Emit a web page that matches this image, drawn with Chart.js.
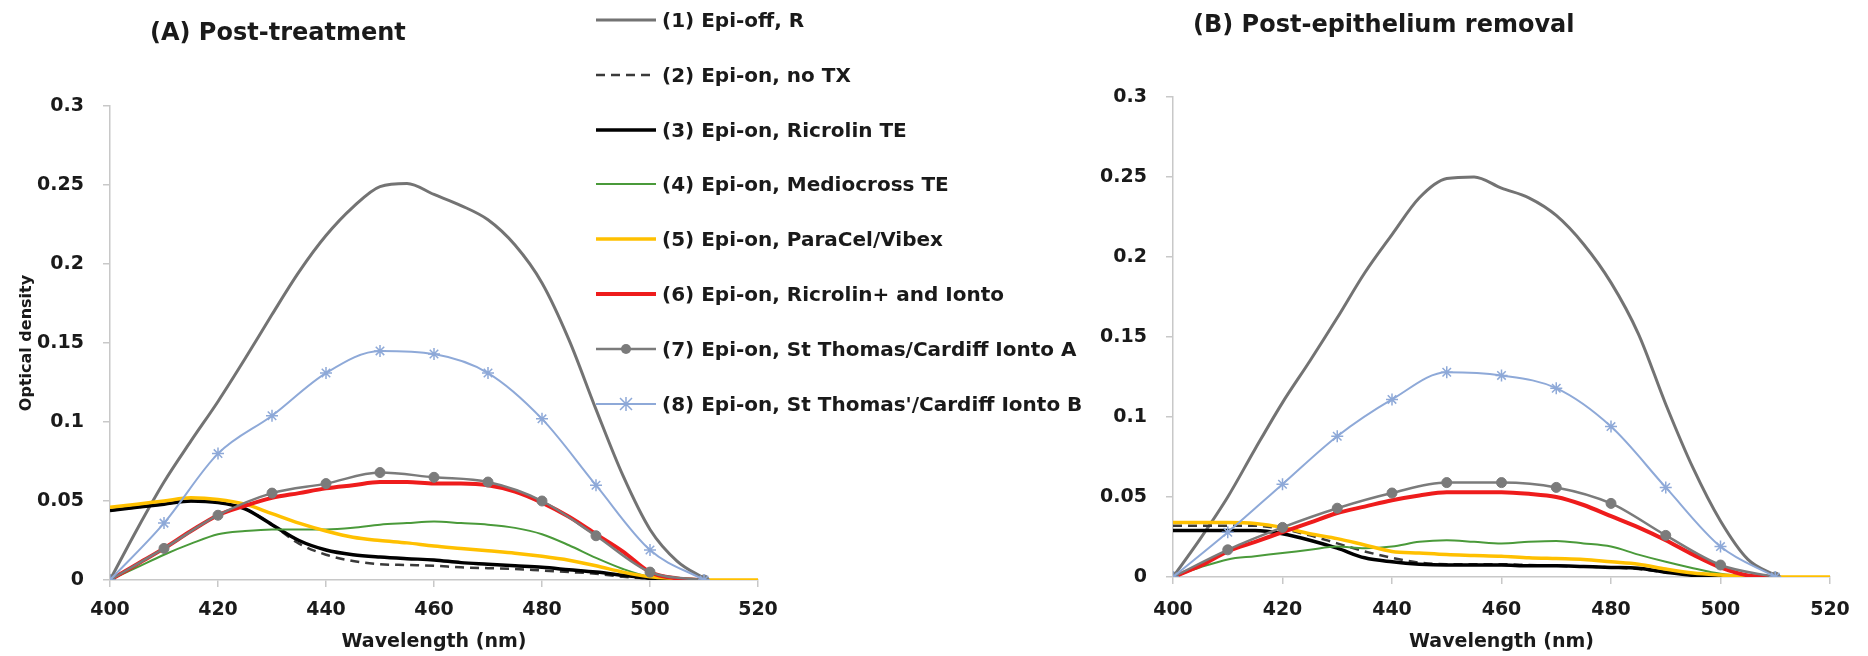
<!DOCTYPE html>
<html lang="en">
  <head>
    <meta charset="UTF-8" />
    <title>Optical density spectra</title>
    <script src="https://cdn.jsdelivr.net/npm/chart.js"></script>
    <style>
      body { margin: 0; background: #fff; }
      #page {
        position: relative;
        width: 1868px;
        height: 656px;
        overflow: hidden;
        font-family: "DejaVu Sans", sans-serif;
        font-weight: bold;
        color: #1a1a1a;
      }
      canvas { position: absolute; top: 0; }
      #chartA { left: 0; }
      #chartB { left: 1090px; }
      .title { position: absolute; font-size: 24px; line-height: 24px; white-space: nowrap; }
      #legend { position: absolute; left: 594px; top: 0; }
      .row {
        position: absolute;
        left: 0;
        height: 30px;
        display: flex;
        align-items: center;
        white-space: nowrap;
        font-size: 20px;
      }
      .row svg { display: block; }
    </style>
  </head>
  <body>
    <div id="page">
      <canvas id="chartA" width="800" height="656"></canvas>
      <canvas id="chartB" width="778" height="656"></canvas>
      <div class="title" style="left: 150px; top: 20px">(A) Post-treatment</div>
      <div class="title" style="left: 1193px; top: 12px">(B) Post-epithelium removal</div>
      <div id="legend"></div>
    </div>
    <script>
      // wavelength grid (nm)
      const wavelengths = [400, 405, 410, 415, 420, 425, 430, 435, 440, 445, 450, 455, 460,
        465, 470, 475, 480, 485, 490, 495, 500, 505, 510, 515, 520];
      const markerWavelengths = [400, 410, 420, 430, 440, 450, 460, 470, 480, 490, 500, 510];

      const seriesNames = [
        "(1) Epi-off, R",
        "(2) Epi-on, no TX",
        "(3) Epi-on, Ricrolin TE",
        "(4) Epi-on, Mediocross TE",
        "(5) Epi-on, ParaCel/Vibex",
        "(6) Epi-on, Ricrolin+ and Ionto",
        "(7) Epi-on, St Thomas/Cardiff Ionto A",
        "(8) Epi-on, St Thomas'/Cardiff Ionto B",
      ];

      // (A) post-treatment
      const epiOffA = [0, 0.032, 0.062, 0.088, 0.113, 0.14, 0.168, 0.195, 0.218, 0.236, 0.249, 0.251,
        0.244, 0.237, 0.228, 0.212, 0.188, 0.152, 0.108, 0.066, 0.032, 0.012, 0.001];
      const noTxA = [0.044, 0.046, 0.048, 0.05, 0.049, 0.045, 0.035, 0.023, 0.016, 0.012, 0.01, 0.0095,
        0.009, 0.008, 0.0075, 0.007, 0.006, 0.005, 0.004, 0.002, 0.001, 0, 0];
      const ricrolinA = [0.044, 0.046, 0.048, 0.05, 0.049, 0.045, 0.035, 0.025, 0.019, 0.016, 0.0145,
        0.0135, 0.0127, 0.011, 0.01, 0.009, 0.008, 0.0065, 0.005, 0.003, 0.001, 0, 0];
      const mediocrossA = [0, 0.008, 0.016, 0.023, 0.029, 0.031, 0.032, 0.032, 0.032, 0.033, 0.035,
        0.036, 0.037, 0.036, 0.035, 0.033, 0.029, 0.022, 0.014, 0.007, 0.002, 0.001, 0];
      const paracelA = [0.046, 0.048, 0.05, 0.052, 0.051, 0.048, 0.042, 0.036, 0.031, 0.027, 0.025,
        0.0235, 0.0215, 0.02, 0.0185, 0.017, 0.015, 0.0125, 0.009, 0.005, 0.002, 0.001, 0, 0, 0];
      const ricrolinIontoA = [0, 0.01, 0.02, 0.031, 0.041, 0.047, 0.052, 0.055, 0.058, 0.06, 0.062,
        0.062, 0.061, 0.061, 0.06, 0.056, 0.049, 0.04, 0.029, 0.018, 0.005, 0.001, 0];
      const cardiffA_A = [0, 0.02, 0.041, 0.055, 0.061, 0.068, 0.065, 0.062, 0.05, 0.028, 0.005, 0];
      const cardiffB_A = [0, 0.036, 0.08, 0.104, 0.131, 0.145, 0.143, 0.131, 0.102, 0.06, 0.019, 0];

      // (B) post-epithelium removal
      const epiOffB = [0, 0.024, 0.05, 0.08, 0.109, 0.135, 0.162, 0.19, 0.214, 0.237, 0.249, 0.25,
        0.243, 0.237, 0.226, 0.208, 0.184, 0.152, 0.108, 0.068, 0.035, 0.011, 0.001];
      const noTxB = [0.032, 0.032, 0.032, 0.032, 0.03, 0.026, 0.021, 0.016, 0.012, 0.009, 0.008, 0.008,
        0.008, 0.0075, 0.007, 0.0065, 0.006, 0.005, 0.003, 0.0015, 0.0005, 0, 0];
      const ricrolinB = [0.029, 0.029, 0.029, 0.029, 0.027, 0.023, 0.018, 0.012, 0.0095, 0.008, 0.0075,
        0.0075, 0.0075, 0.007, 0.007, 0.0065, 0.006, 0.0055, 0.003, 0.001, 0.0005, 0, 0];
      const mediocrossB = [0, 0.006, 0.011, 0.013, 0.015, 0.017, 0.019, 0.018, 0.019, 0.022, 0.023,
        0.022, 0.021, 0.022, 0.0225, 0.021, 0.019, 0.014, 0.0095, 0.0055, 0.002, 0.0005, 0];
      const paracelB = [0.034, 0.034, 0.034, 0.0335, 0.031, 0.027, 0.024, 0.02, 0.016, 0.015, 0.014,
        0.0135, 0.013, 0.012, 0.0115, 0.011, 0.0095, 0.008, 0.005, 0.0025, 0.0012, 0.0003, 0, 0, 0];
      const ricrolinIontoB = [0, 0.007, 0.016, 0.022, 0.028, 0.034, 0.04, 0.044, 0.048, 0.051, 0.053,
        0.053, 0.053, 0.052, 0.05, 0.045, 0.038, 0.031, 0.023, 0.014, 0.006, 0.001, 0];
      const cardiffA_B = [0, 0.017, 0.031, 0.043, 0.0525, 0.059, 0.059, 0.056, 0.046, 0.026, 0.0075, 0];
      const cardiffB_B = [0, 0.028, 0.058, 0.088, 0.111, 0.128, 0.126, 0.118, 0.094, 0.056, 0.019, 0];

      const lineStyles = [
        { color: "#737373", width: 3 },
        { color: "#3a3a3a", width: 2.5, dash: [9, 6] },
        { color: "#000000", width: 3.5 },
        { color: "#4a9a3a", width: 2 },
        { color: "#ffc000", width: 3.5 },
        { color: "#ee1c1c", width: 4 },
        { color: "#7b7b7b", width: 2.5, marker: "circle", radius: 5 },
        { color: "#8ea9d8", width: 2, marker: "star", radius: 6 },
      ];

      const axisGray = "#c8c8c8";
      const textColor = "#1a1a1a";
      const tickFont = { family: "DejaVu Sans", size: 19, weight: "bold" };

      function makeDatasets(series) {
        return series.map((values, i) => {
          const st = lineStyles[i];
          const xs = st.marker ? markerWavelengths : wavelengths;
          return {
            label: seriesNames[i],
            data: values.map((v, j) => ({ x: xs[j], y: v })),
            borderColor: st.color,
            backgroundColor: st.color,
            borderWidth: st.width,
            borderDash: st.dash || [],
            pointStyle: st.marker || "circle",
            pointRadius: st.marker ? st.radius : 0,
            pointBorderWidth: st.marker === "star" ? 1.5 : 1,
            pointBackgroundColor: st.color,
            pointBorderColor: st.color,
            cubicInterpolationMode: "monotone",
            fill: false,
            order: 7 - i,
          };
        });
      }

      function makeChart(id, series, o) {
        return new Chart(document.getElementById(id), {
          type: "line",
          data: { datasets: makeDatasets(series) },
          options: {
            responsive: false,
            animation: false,
            devicePixelRatio: 1,
            layout: { padding: { top: o.top, right: o.right, left: 0, bottom: 0 } },
            plugins: { legend: { display: false }, tooltip: { enabled: false } },
            scales: {
              x: {
                type: "linear",
                min: 400,
                max: 520,
                afterFit: (s) => { s.height = o.xHeight; },
                ticks: { stepSize: 20, padding: o.xPad, color: textColor, font: tickFont, maxRotation: 0 },
                grid: { drawOnChartArea: false, tickLength: 7, color: axisGray, lineWidth: 1.5 },
                border: { color: axisGray, width: 1.5 },
                title: {
                  display: true,
                  text: "Wavelength (nm)",
                  color: textColor,
                  font: { family: "DejaVu Sans", size: 19, weight: "bold" },
                  padding: { top: 0, bottom: 3 },
                },
              },
              y: {
                min: 0,
                max: 0.3,
                afterFit: (s) => { s.width = o.yWidth; },
                ticks: {
                  stepSize: 0.05,
                  padding: 19,
                  color: textColor,
                  font: tickFont,
                  callback: (v) => String(Number(v.toFixed(2))),
                },
                grid: { drawOnChartArea: false, tickLength: 7, color: axisGray, lineWidth: 1.5 },
                border: { color: axisGray, width: 1.5 },
                title: {
                  display: o.yTitle,
                  text: "Optical density",
                  color: textColor,
                  font: { family: "DejaVu Sans", size: 16, weight: "bold" },
                  padding: { top: 17, bottom: 0 },
                },
              },
            },
          },
        });
      }

      makeChart(
        "chartA",
        [epiOffA, noTxA, ricrolinA, mediocrossA, paracelA, ricrolinIontoA, cardiffA_A, cardiffB_A],
        { top: 106, right: 42, yWidth: 110, xHeight: 76, xPad: 12, yTitle: true }
      );
      makeChart(
        "chartB",
        [epiOffB, noTxB, ricrolinB, mediocrossB, paracelB, ricrolinIontoB, cardiffA_B, cardiffB_B],
        { top: 97, right: 38, yWidth: 83, xHeight: 79, xPad: 15, yTitle: false }
      );

      // legend drawn over chart A, as in the original figure
      const legend = document.getElementById("legend");
      seriesNames.forEach((name, i) => {
        const st = lineStyles[i];
        const row = document.createElement("div");
        row.className = "row";
        row.style.top = 20 + 54.8 * i - 15 + "px";
        let marker = "";
        if (st.marker === "circle") {
          marker = `<circle cx="32" cy="15" r="${st.radius}" fill="${st.color}"/>`;
        } else if (st.marker === "star") {
          marker = `<path d="M26 9 L38 21 M38 9 L26 21 M32 8 L32 22" stroke="${st.color}" stroke-width="1.5"/>`;
        }
        const dash = st.dash ? `stroke-dasharray="${st.dash.join(" ")}"` : "";
        row.innerHTML =
          `<svg width="64" height="30"><line x1="2" y1="15" x2="62" y2="15" stroke="${st.color}" ` +
          `stroke-width="${st.width}" ${dash}/>${marker}</svg>` +
          `<span style="margin-left:4px">${name}</span>`;
        legend.appendChild(row);
      });
    </script>
  </body>
</html>
